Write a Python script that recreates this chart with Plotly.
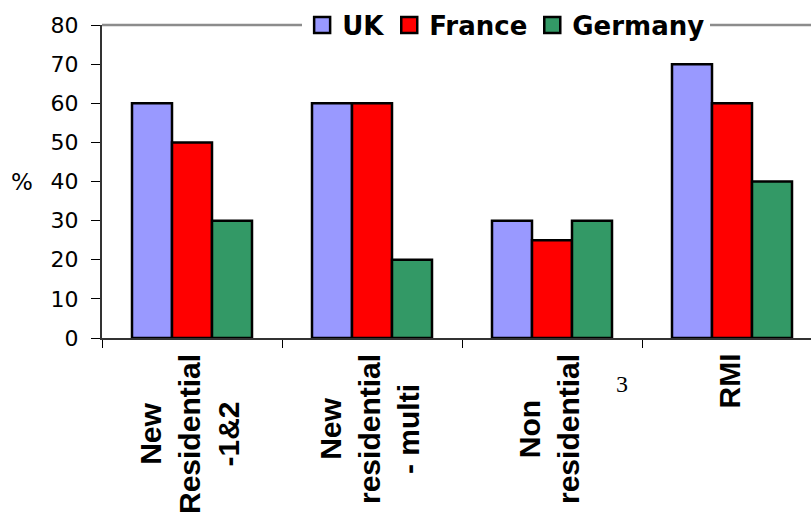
import plotly.graph_objects as go

categories = ["New<br>Residential<br>-1&2", "New<br>residential<br>- multi", "Non<br>residential", "RMI"]
cat_keys = ["c1", "c2", "c3", "c4"]
uk = [60, 60, 30, 70]
france = [50, 60, 25, 60]
germany = [30, 20, 30, 40]
series_names = ["UK", "France", "Germany"]
series_colors = ["#9999FF", "#FF0000", "#339966"]
y_ticks = [0, 10, 20, 30, 40, 50, 60, 70, 80]

fig = go.Figure()
for name, vals, col in zip(series_names, [uk, france, germany], series_colors):
    fig.add_trace(go.Bar(
        x=cat_keys, y=vals, name=name, showlegend=False, legendgroup=name,
        marker=dict(color=col, line=dict(color="black", width=2.5)),
    ))
# legend entries with larger square swatches
for name, col in zip(series_names, series_colors):
    fig.add_trace(go.Scatter(
        x=[None], y=[None], mode="markers", name=name, legendgroup=name,
        marker=dict(symbol="square", size=16, color=col, line=dict(color="black", width=2.5)),
    ))

L, T, B = 102, 25, 174
W, H = 811, 512
plot_w = W - L
cat_px = 180
span = plot_w / cat_px

fig.update_layout(
    width=W, height=H,
    margin=dict(l=L, r=0, t=T, b=B, pad=0),
    paper_bgcolor="white", plot_bgcolor="white",
    barmode="group", bargap=1/3, bargroupgap=0,
    font=dict(family="Liberation Sans, Arial", color="black"),
    showlegend=True,
    legend=dict(
        orientation="h", x=0.57, xanchor="center", y=1.0, yanchor="middle",
        bgcolor="white", borderwidth=0,
        font=dict(size=26, family="DejaVu Sans", color="black", weight="bold"),
        itemsizing="trace", tracegroupgap=0,
    ),
    xaxis=dict(
        type="category", range=[-0.5, -0.5 + span],
        showticklabels=False, tickson="boundaries",
        ticks="outside", ticklen=8, tickcolor="black", tickwidth=1,
        showline=True, linecolor="#333333", linewidth=2,
        showgrid=False, zeroline=False, fixedrange=True,
    ),
    yaxis=dict(
        range=[0, 80], tickvals=y_ticks, ticktext=[str(v) for v in y_ticks],
        ticks="outside", ticklen=9, tickcolor="black", tickwidth=1,
        ticklabelstandoff=8,
        showline=True, linecolor="#333333", linewidth=2,
        showgrid=False, zeroline=False,
        tickfont=dict(size=22, family="DejaVu Sans", color="black"),
    ),
)

# top border line of plot area (gray), legend sits on top of it
fig.add_shape(type="line", xref="paper", yref="paper", x0=0, x1=1, y0=1, y1=1,
              line=dict(color="#8c8c8c", width=2.5), layer="below")

# category labels (rotated, centred multi-line)
for key, lab in zip(cat_keys, categories):
    fig.add_annotation(
        x=key, xref="x", y=0, yref="paper", yanchor="top", xanchor="center",
        yshift=-14, xshift=-3, text=lab, textangle=-90, align="center", showarrow=False,
        font=dict(size=30, family="Liberation Sans, Arial", color="black", weight="bold"),
    )

# y axis title "%"
fig.add_annotation(x=-0.113, xref="paper", y=40, yref="y", text="%", showarrow=False,
                   xanchor="center", yanchor="middle",
                   font=dict(size=23, family="DejaVu Sans", color="black"))

# stray "3"
fig.add_annotation(x=(622 - L) / plot_w, xref="paper", y=(338 - 384) / (338 - 25), yref="paper",
                   text="3", showarrow=False, xanchor="center", yanchor="middle",
                   font=dict(size=24, family="Liberation Serif, Times New Roman", color="black"))

fig.write_html("out.html")
